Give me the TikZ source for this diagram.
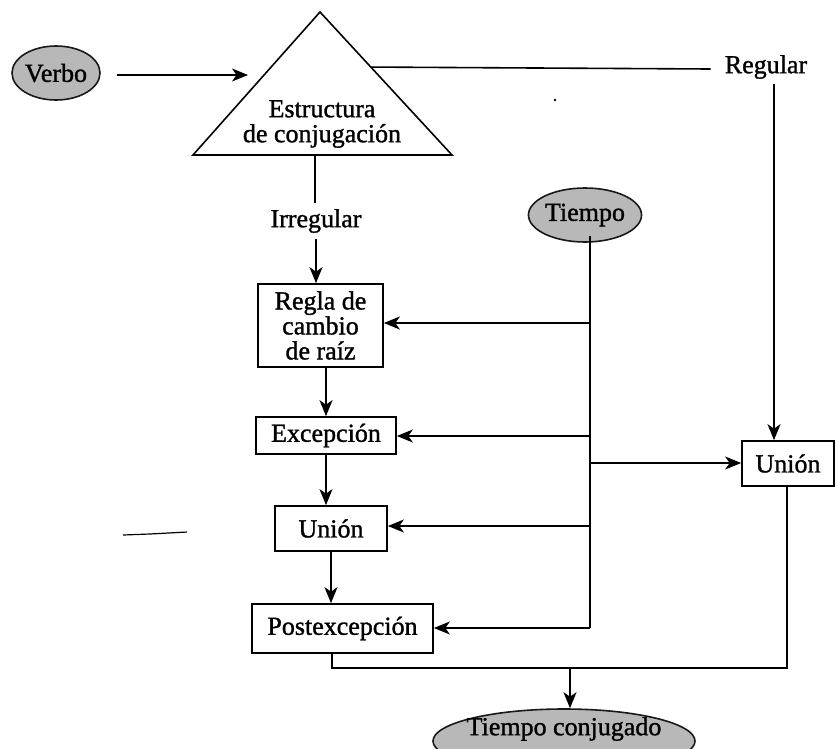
\documentclass[tikz,border=0pt]{standalone}
\usepackage{fontspec}
\setmainfont{Liberation Serif}[FakeBold=1.2]
\usetikzlibrary{arrows.meta,shapes.geometric,calc}
\begin{document}
\begin{tikzpicture}[x=1pt,y=-1pt,
  txt/.style={font=\fontsize{26}{25}\selectfont, inner sep=0pt, align=center},
  stepbox/.style={draw, line width=1.7pt, align=center, font=\fontsize{26}{25}\selectfont, inner sep=0pt},
  blob/.style={ellipse, draw=black!90, line width=1.6pt, fill=black!28, inner sep=0pt, font=\fontsize{26}{25}\selectfont},
  arr/.style={line width=1.8pt, -{Stealth[length=16pt,width=13pt,inset=4.5pt]}},
  ln/.style={line width=1.6pt}]
\clip (0,0) rectangle (836,748);
\fill[white] (0,0) rectangle (836,748);

% Verbo and triangle
\node[blob, minimum width=88pt, minimum height=54pt] (verbo) at (56,73) {Verbo};
\coordinate (apex) at (320,12);
\coordinate (bl) at (193,155);
\coordinate (br) at (452,155);
\draw[ln, line join=miter] (apex) -- (br) -- (bl) -- cycle;
\node[txt] (estr) at (322,124) {Estructura\\de conjugación};
\coordinate (vs) at (117,75);
\coordinate (vt) at (248,75);
\draw[arr] (vs) -- (vt);

% Regular branch
\coordinate (te) at ($(apex)!0.385!(br)$);
\node[txt] (reg) at (766,67) {Regular};
\draw[ln] (te) -- ([xshift=-14pt,yshift=-2pt]reg.west);
\node[stepbox, minimum width=92pt, minimum height=45pt] (u2) at (788,463.5) {Unión};
\coordinate (rv) at (774,84);
\draw[arr] (rv) -- (rv |- u2.north);

% Irregular branch
\coordinate (tb) at (315,155);
\node[txt, inner ysep=6pt] (irr) at (316,221) {Irregular};
\draw[ln] (tb) -- (tb |- irr.north);
\node[stepbox, minimum width=125pt, minimum height=83pt] (regla) at (320.5,325.5) {Regla de\\cambio\\de raíz};
\draw[arr] (irr.south) -- (irr.south |- regla.north);
\node[stepbox, minimum width=140pt, minimum height=37pt] (excep) at (326,435.5) {Excepción};
\node[stepbox, minimum width=112pt, minimum height=45pt] (u1) at (331,528.5) {Unión};
\node[stepbox, minimum width=181pt, minimum height=49pt] (post) at (342.5,628.5) {Postexcepción};
\draw[arr] (regla.south -| excep.north) -- (excep.north);
\draw[arr] (excep.south) -- (excep.south |- u1.north);
\draw[arr] (u1.south) -- (u1.south |- post.north);

% Tiempo
\node[blob, minimum width=110pt, minimum height=54pt] (tiempo) at (585,215) {Tiempo};
\coordinate (t0) at (590,236);
\coordinate (t1) at (590,323);
\coordinate (t2) at (590,436);
\coordinate (t3) at (590,463);
\coordinate (t3b) at (590,526);
\coordinate (t4) at (590,628);
\draw[ln] (t0) -- (t4);
\draw[arr] (t1) -- (t1 -| regla.east);
\draw[arr] (t2) -- (t2 -| excep.east);
\draw[arr] (t3) -- (t3 -| u2.west);
\draw[arr] (t3b) -- (t3b -| u1.east);
\draw[arr] (t4) -- (t4 -| post.east);

% output
\node[blob, minimum width=262pt, minimum height=64pt] (tc) at (564,741) {};
\node[txt] (tct) at (564,729) {Tiempo conjugado};
\draw[ln] ([xshift=-10.5pt]post.south) -- ++(0,14) -| ([xshift=-1pt]u2.south);
\coordinate (bj) at (570,667);
\draw[arr] (bj) -- (bj |- tc.north);

% stray marks
\coordinate (s1) at (123,535);
\coordinate (s2) at (150,534);
\coordinate (s3) at (187,532);
\draw[line width=1.2pt] (s1) -- (s2) -- (s3);
\coordinate (dot) at (555,100);
\fill (dot) circle (1.3pt);
\end{tikzpicture}
\end{document}
